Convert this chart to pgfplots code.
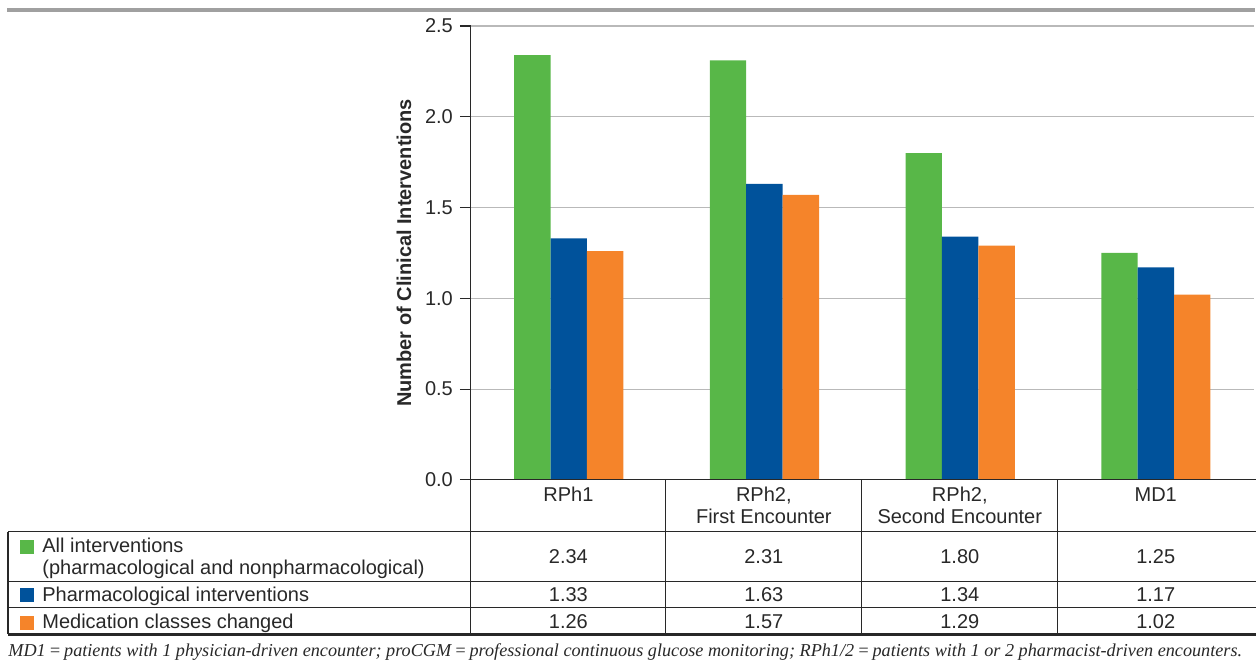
\documentclass[border=0pt]{standalone}
\usepackage{fontspec}
\setmainfont{Liberation Sans}
\newfontfamily\footfont{Liberation Serif}
\usepackage{pgfplots}
\pgfplotsset{compat=1.18}
\definecolor{cgreen}{RGB}{88,183,72}
\definecolor{cblue}{RGB}{0,82,155}
\definecolor{corange}{RGB}{245,132,42}
\definecolor{cgrid}{RGB}{185,185,185}
\definecolor{ctop}{RGB}{160,160,160}
\definecolor{cline}{RGB}{40,40,40}
\begin{document}
\begin{tikzpicture}[font=\fontsize{10pt}{12pt}\selectfont]
\begin{scope}[x=0.5pt,y=-0.5pt]
\path[use as bounding box] (0,0) rectangle (1257,664);
\end{scope}
\begin{axis}[
  scale only axis,
  width=391.5pt, height=227pt,
  at={(235.5pt,-240pt)}, anchor=south west,
  xmin=-0.5, xmax=3.5, ymin=0, ymax=2.5,
  hide x axis,
  axis y line=left,
  y axis line style={-, draw=cline, line width=0.6pt},
  ytick={0,0.5,1,1.5,2,2.5},
  yticklabel style={/pgf/number format/fixed, /pgf/number format/precision=1, /pgf/number format/fixed zerofill, text=cline},
  /pgf/number format/assume math mode=true,
  tick align=outside, major tick length=5.5pt,
  ytick style={draw=cline, line width=0.6pt},
  ymajorgrids, grid style={draw=cgrid, line width=0.6pt},
  ylabel={\bfseries Number of Clinical Interventions},
  ylabel style={at={(axis description cs:-0.0856,0.5)}, anchor=center, text=cline},
  ybar=0pt, bar width=0.186,
]
\addplot[fill=cgreen, draw=none] coordinates {(0,2.34) (1,2.31) (2,1.80) (3,1.25)};
\addplot[fill=cblue, draw=none] coordinates {(0,1.33) (1,1.63) (2,1.34) (3,1.17)};
\addplot[fill=corange, draw=none] coordinates {(0,1.26) (1,1.57) (2,1.29) (3,1.02)};
\end{axis}
\begin{scope}[x=0.5pt,y=-0.5pt]
% top rule
\fill[ctop] (7,8) rectangle (1255,12);
% table lines
\draw[cline, line width=0.6pt] (471,480) -- (1256,480);
\foreach \xx in {471,666,862,1058} \draw[cline, line width=0.6pt] (\xx,480) -- (\xx,634);
\foreach \yy in {532,582,608} \draw[cline, line width=0.6pt] (8,\yy) -- (1256,\yy);
\draw[cline, line width=0.6pt] (8,532) -- (8,634);
\draw[cline, line width=1.3pt] (8,634.5) -- (1256,634.5);
% category labels
\tikzset{tl/.style={text=cline, inner sep=0pt, text height=7.2pt, text depth=0pt, anchor=center}}
\node[tl] at (568.5,494) {RPh1};
\node[tl] at (764,494) {RPh2,};
\node[tl] at (764,516) {First Encounter};
\node[tl] at (960,494) {RPh2,};
\node[tl] at (960,516) {Second Encounter};
\node[tl] at (1156,494) {MD1};
% legend squares
\fill[cgreen] (20,540) rectangle (34,554);
\fill[cblue] (20,588) rectangle (34,602);
\fill[corange] (20,616) rectangle (34,630);
\node[tl, anchor=west] at (42,545) {All interventions};
\node[tl, anchor=west] at (42,567) {(pharmacological and nonpharmacological)};
\node[tl, anchor=west] at (42,594) {Pharmacological interventions};
\node[tl, anchor=west] at (42,621) {Medication classes changed};
% values
\node[tl] at (568.5,556) {2.34};
\node[tl] at (764,556) {2.31};
\node[tl] at (960,556) {1.80};
\node[tl] at (1156,556) {1.25};
\node[tl] at (568.5,594) {1.33};
\node[tl] at (764,594) {1.63};
\node[tl] at (960,594) {1.34};
\node[tl] at (1156,594) {1.17};
\node[tl] at (568.5,621) {1.26};
\node[tl] at (764,621) {1.57};
\node[tl] at (960,621) {1.29};
\node[tl] at (1156,621) {1.02};
% footnote
\node[anchor=west, inner sep=0pt, text=cline] at (8,652) {\resizebox{617pt}{!}{\footfont\itshape MD1\,=\,patients with 1 physician-driven encounter; proCGM\,=\,professional continuous glucose monitoring; RPh1/2\,=\,patients with 1 or 2 pharmacist-driven encounters.}};
\end{scope}
\end{tikzpicture}
\end{document}
